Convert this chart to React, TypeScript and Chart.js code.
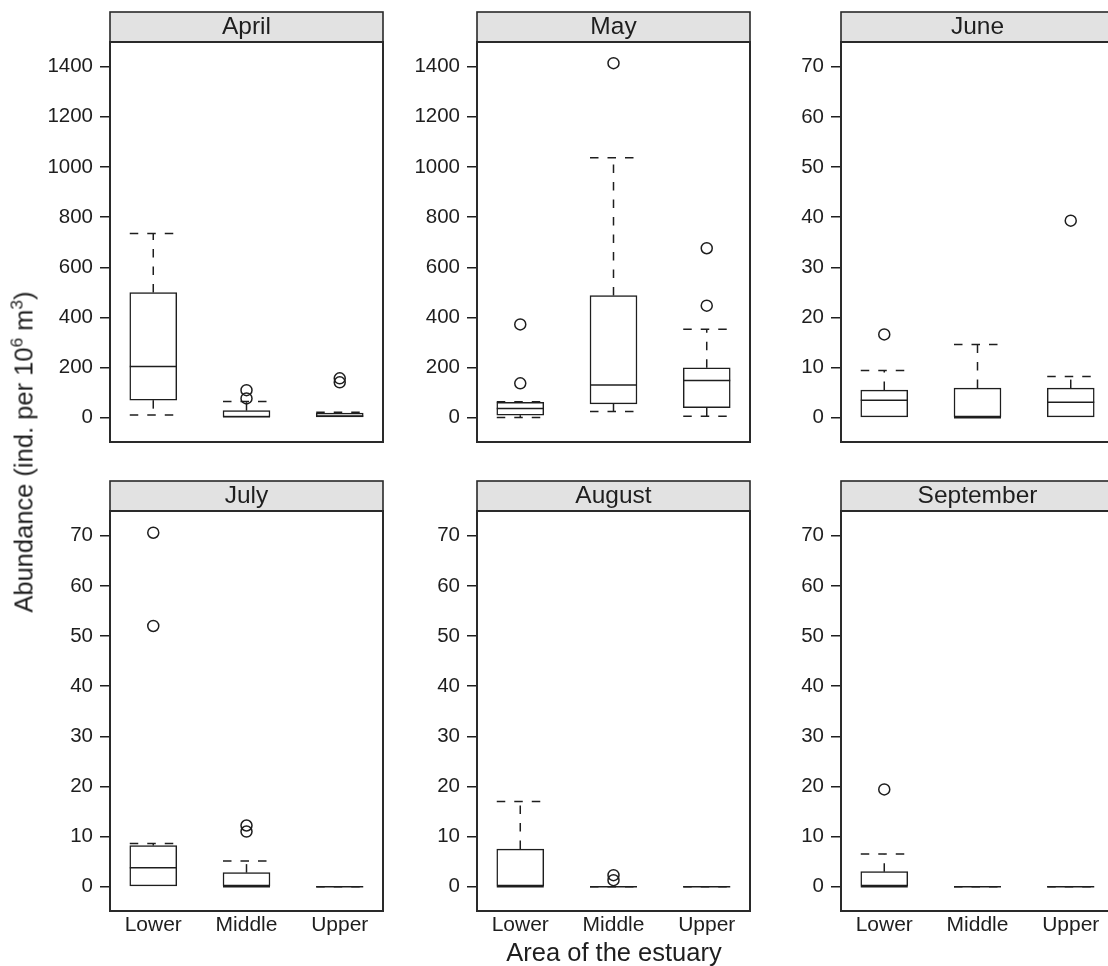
import React, { useEffect, useRef } from 'react';
import { Chart, registerables } from 'chart.js';

Chart.register(...registerables);

// ---------- data ----------
const MONTHS = ['April', 'May', 'June', 'July', 'August', 'September'];
const AREAS = ['Lower', 'Middle', 'Upper'];

// per month (row) and area (column)
const WHISKER_LOW = [
  [11, 0, 0],
  [1, 25, 6],
  [0, 0, 0],
  [0, 0, 0],
  [0, 0, 0],
  [0, 0, 0],
];
const Q1 = [
  [70, 0, 0],
  [10, 55, 40],
  [0, 0, 0],
  [0, 0, 0],
  [0, 0, 0],
  [0, 0, 0],
];
const MEDIAN = [
  [204, 4, 7],
  [37, 130, 148],
  [3.5, 0, 3.1],
  [3.8, 0, 0],
  [0, 0, 0],
  [0, 0, 0],
];
const Q3 = [
  [499, 28, 18],
  [61, 487, 199],
  [5.5, 5.9, 5.9],
  [8.2, 2.8, 0],
  [7.5, 0, 0],
  [3.0, 0, 0],
];
const WHISKER_HIGH = [
  [735, 65, 22],
  [64, 1037, 353],
  [9.4, 14.6, 8.2],
  [8.6, 5.1, 0],
  [17.0, 0, 0],
  [6.5, 0, 0],
];
const OUTLIERS = [
  [[], [110, 77], [157, 141]],
  [[372, 137], [1414], [676, 447]],
  [[16.6], [], [39.3]],
  [[70.6, 52.0], [12.2, 11.0], []],
  [[], [2.3, 1.3], []],
  [[19.4], [], []],
];

const TICKS_APR_MAY = [0, 200, 400, 600, 800, 1000, 1200, 1400];
const TICKS_JUN_SEP = [0, 10, 20, 30, 40, 50, 60, 70];
const Y_RANGE_APR_MAY = [-96.9, 1498.5];
const Y_RANGE_JUN_SEP = [-4.85, 74.93];
const X_RANGE = [0.536, 3.464];

// ---------- style / layout ----------
const INK = '#1e1e1e';
const FONT = '"Liberation Sans", Arial, Helvetica, sans-serif';
const PANEL_LEFTS = [110, 477, 841];
const PANEL_W = 273;
const AXIS_W = 100;
const STRIP_H = 30;
const BOX_W = 47;

Chart.defaults.font.family = FONT;

function Panel({ m }: { m: number }) {
  const ref = useRef<HTMLCanvasElement | null>(null);
  const row = Math.floor(m / 3);
  const col = m % 3;
  const isBottom = row === 1;
  const height = isBottom ? 481 : 445;

  useEffect(() => {
    const canvas = ref.current;
    if (!canvas) return;
    const large = m < 2;
    const ticks = large ? TICKS_APR_MAY : TICKS_JUN_SEP;
    const range = large ? Y_RANGE_APR_MAY : Y_RANGE_JUN_SEP;

    const deco = {
      id: 'deco',
      beforeDatasetsDraw(chart: any) {
        const { ctx, scales } = chart;
        const x = scales.x;
        const y = scales.y;
        ctx.save();
        ctx.strokeStyle = INK;
        ctx.lineWidth = 1.5;
        ctx.lineCap = 'butt';
        ctx.setLineDash([8.5, 9]);
        const seg = (x1: number, y1: number, x2: number, y2: number) => {
          if (Math.abs(x1 - x2) < 0.01 && Math.abs(y1 - y2) < 0.01) return;
          ctx.beginPath();
          ctx.moveTo(x1, y1);
          ctx.lineTo(x2, y2);
          ctx.stroke();
        };
        AREAS.forEach((_, i) => {
          const px = x.getPixelForValue(i + 1);
          const h = BOX_W / 2;
          const yq3 = y.getPixelForValue(Q3[m][i]);
          const yq1 = y.getPixelForValue(Q1[m][i]);
          const yhi = y.getPixelForValue(WHISKER_HIGH[m][i]);
          const ylo = y.getPixelForValue(WHISKER_LOW[m][i]);
          seg(px, yq3, px, yhi);
          seg(px - h, yhi, px + h, yhi);
          if (Math.abs(yq1 - ylo) > 0.5) {
            seg(px, yq1, px, ylo);
            seg(px - h, ylo, px + h, ylo);
          }
        });
        ctx.restore();
      },
      afterDraw(chart: any) {
        const { ctx, chartArea } = chart;
        const { left, right, top, bottom } = chartArea;
        ctx.save();
        // strip
        ctx.fillStyle = '#e2e2e2';
        ctx.fillRect(left, top - STRIP_H, right - left, STRIP_H);
        ctx.strokeStyle = '#2a2a2a';
        ctx.lineWidth = 1.6;
        ctx.strokeRect(left, top - STRIP_H, right - left, STRIP_H);
        ctx.fillStyle = INK;
        ctx.font = `24.5px ${FONT}`;
        ctx.textAlign = 'center';
        ctx.textBaseline = 'alphabetic';
        ctx.fillText(MONTHS[m], (left + right) / 2, top - 8.5);
        // plot frame
        ctx.lineWidth = 2;
        ctx.strokeRect(left, top, right - left, bottom - top);
        ctx.restore();
      },
    };

    const boxData = AREAS.map((_, i) => ({ x: i + 1, y: [Q1[m][i], Q3[m][i]] }));
    const medData = AREAS.map((_, i) => ({ x: i + 1, y: MEDIAN[m][i] }));
    const outData: { x: number; y: number }[] = [];
    OUTLIERS[m].forEach((list, i) => list.forEach((v) => outData.push({ x: i + 1, y: v })));

    const chart = new Chart(canvas, {
      type: 'bar',
      data: {
        datasets: [
          {
            type: 'bar',
            data: boxData as any,
            backgroundColor: '#ffffff',
            borderColor: INK,
            borderWidth: 1.5,
            borderSkipped: false,
            barThickness: BOX_W,
            order: 3,
          } as any,
          {
            type: 'scatter',
            data: medData,
            showLine: false,
            pointStyle: 'line',
            pointRadius: BOX_W / 2,
            pointBorderWidth: 1.5,
            borderWidth: 1.5,
            pointBorderColor: INK,
            borderColor: INK,
            order: 1,
          } as any,
          {
            type: 'scatter',
            data: outData,
            showLine: false,
            pointStyle: 'circle',
            pointRadius: 5.5,
            pointBorderWidth: 1.5,
            pointBorderColor: INK,
            pointBackgroundColor: 'rgba(0,0,0,0)',
            order: 0,
          } as any,
        ],
      },
      options: {
        responsive: true,
        maintainAspectRatio: false,
        animation: false,
        events: [],
        layout: {
          autoPadding: false,
          padding: { top: isBottom ? 51 : 42, right: 3, bottom: isBottom ? 0 : 3, left: 0 },
        },
        plugins: {
          legend: { display: false },
          tooltip: { enabled: false },
          title: { display: false },
        },
        scales: {
          x: {
            type: 'linear',
            min: X_RANGE[0],
            max: X_RANGE[1],
            display: isBottom,
            offset: false,
            grid: { display: false, drawTicks: false },
            border: { display: false },
            afterBuildTicks: (s: any) => {
              s.ticks = AREAS.map((_, i) => ({ value: i + 1 }));
            },
            afterFit: (s: any) => {
              s.height = isBottom ? 30 : 0;
              s.paddingLeft = 0;
              s.paddingRight = 0;
            },
            ticks: {
              autoSkip: false,
              maxRotation: 0,
              padding: 2,
              color: INK,
              font: { size: 21, family: FONT },
              callback: (v: any) => AREAS[Math.round(Number(v)) - 1] ?? '',
            },
          },
          y: {
            type: 'linear',
            min: range[0],
            max: range[1],
            afterBuildTicks: (s: any) => {
              s.ticks = ticks.map((v) => ({ value: v }));
            },
            afterFit: (s: any) => {
              s.width = AXIS_W;
              s.paddingTop = 0;
              s.paddingBottom = 0;
            },
            grid: {
              drawOnChartArea: false,
              drawTicks: true,
              tickLength: 10,
              color: INK,
              lineWidth: 1.5,
            },
            border: { display: false },
            ticks: {
              padding: 7,
              color: INK,
              font: { size: 20.5, family: FONT },
              callback: (v: any) => String(v),
            },
          },
        },
      } as any,
      plugins: [deco],
    });
    return () => chart.destroy();
  }, [m]);

  return (
    <div
      style={{
        position: 'absolute',
        left: PANEL_LEFTS[col] - AXIS_W,
        top: isBottom ? 460 : 0,
        width: AXIS_W + PANEL_W + 3,
        height,
      }}
    >
      <canvas ref={ref} />
    </div>
  );
}

export default function App() {
  return (
    <div
      style={{
        position: 'absolute',
        left: 0,
        top: 0,
        width: 1108,
        height: 966,
        overflow: 'hidden',
        background: '#ffffff',
        fontFamily: FONT,
        color: INK,
      }}
    >
      {MONTHS.map((_, m) => (
        <Panel key={m} m={m} />
      ))}
      <div
        style={{
          position: 'absolute',
          left: 24,
          top: 452,
          transform: 'translate(-50%, -50%) rotate(-90deg)',
          whiteSpace: 'nowrap',
          fontSize: 25.5,
          lineHeight: '25px',
        }}
      >
        Abundance (ind. per 10
        <sup style={{ fontSize: '0.68em', lineHeight: 0, verticalAlign: '0.6em' }}>6</sup> m
        <sup style={{ fontSize: '0.68em', lineHeight: 0, verticalAlign: '0.6em' }}>3</sup>)
      </div>
      <div
        style={{
          position: 'absolute',
          left: 614,
          top: 940,
          transform: 'translateX(-50%)',
          whiteSpace: 'nowrap',
          fontSize: 25.5,
          lineHeight: '25px',
        }}
      >
        Area of the estuary
      </div>
    </div>
  );
}
